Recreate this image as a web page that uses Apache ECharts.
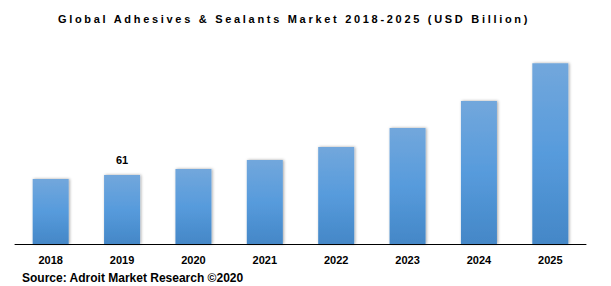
<!DOCTYPE html>
<html>
<head>
<meta charset="utf-8">
<script src="https://cdn.jsdelivr.net/npm/echarts@6/dist/echarts.min.js"></script>
<style>
  html, body { margin: 0; padding: 0; background: #fff; }
  #chart { width: 611px; height: 286px; }
</style>
</head>
<body>
<div id="chart"></div>
<script>
const titleText = 'Global Adhesives & Sealants Market 2018-2025 (USD Billion)';
const sourceText = 'Source: Adroit Market Research \u00A92020';
const categories = ['2018', '2019', '2020', '2021', '2022', '2023', '2024', '2025'];
const values = [57.5, 61, 66.3, 74.3, 85.8, 102.6, 126.4, 159.8];
const labeledCategories = ['2019'];

const chart = echarts.init(document.getElementById('chart'), null, { renderer: 'svg' });

const barColor = new echarts.graphic.LinearGradient(0, 0, 0, 1, [
  { offset: 0, color: '#72a7dc' },
  { offset: 0.5, color: '#579bdc' },
  { offset: 1, color: '#4487c7' }
]);

const option = {
  animation: false,
  backgroundColor: '#ffffff',
  graphic: [
    {
      type: 'text',
      x: 294,
      y: 18.5,
      style: {
        text: titleText,
        textAlign: 'center',
        textVerticalAlign: 'middle',
        fontFamily: '"Liberation Sans", Arial, sans-serif',
        fontWeight: 'bold',
        fontSize: 11,
        fill: '#000'
      }
    },
    {
      type: 'text',
      x: 22,
      y: 271.5,
      style: {
        text: sourceText,
        textAlign: 'left',
        textVerticalAlign: 'top',
        fontFamily: '"Liberation Sans", Arial, sans-serif',
        fontWeight: 'bold',
        fontSize: 12,
        fill: '#000'
      }
    }
  ],
  grid: { left: 15, right: 25, top: 17.8, bottom: 42, containLabel: false },
  xAxis: {
    type: 'category',
    data: categories,
    boundaryGap: true,
    axisTick: { show: false },
    axisLine: { lineStyle: { color: '#000', width: 1 } },
    axisLabel: {
      color: '#000',
      fontFamily: '"Liberation Sans", Arial, sans-serif',
      fontWeight: 'bold',
      fontSize: 11,
      margin: 10
    }
  },
  yAxis: {
    type: 'value',
    min: 0,
    max: 200,
    show: false,
    splitLine: { show: false }
  },
  series: [{
    type: 'bar',
    barWidth: 36,
    data: values.map((v, i) => labeledCategories.includes(categories[i])
      ? { value: v, label: { show: true } }
      : v),
    itemStyle: {
      color: barColor,
      shadowColor: 'rgba(0,0,0,0.35)',
      shadowBlur: 3,
      shadowOffsetX: 1,
      shadowOffsetY: 0
    },
    label: {
      show: false,
      position: 'top',
      distance: 10,
      color: '#000',
      fontFamily: '"Liberation Sans", Arial, sans-serif',
      fontWeight: 'bold',
      fontSize: 11
    }
  }]
};

chart.setOption(option);

function spaceTitle() {
  document.querySelectorAll('#chart text').forEach(t => {
    if (t.textContent.indexOf('Global') === 0) {
      t.style.letterSpacing = '2.7px';
    }
  });
}
spaceTitle();
chart.on('finished', spaceTitle);
setTimeout(spaceTitle, 50);
</script>
</body>
</html>
